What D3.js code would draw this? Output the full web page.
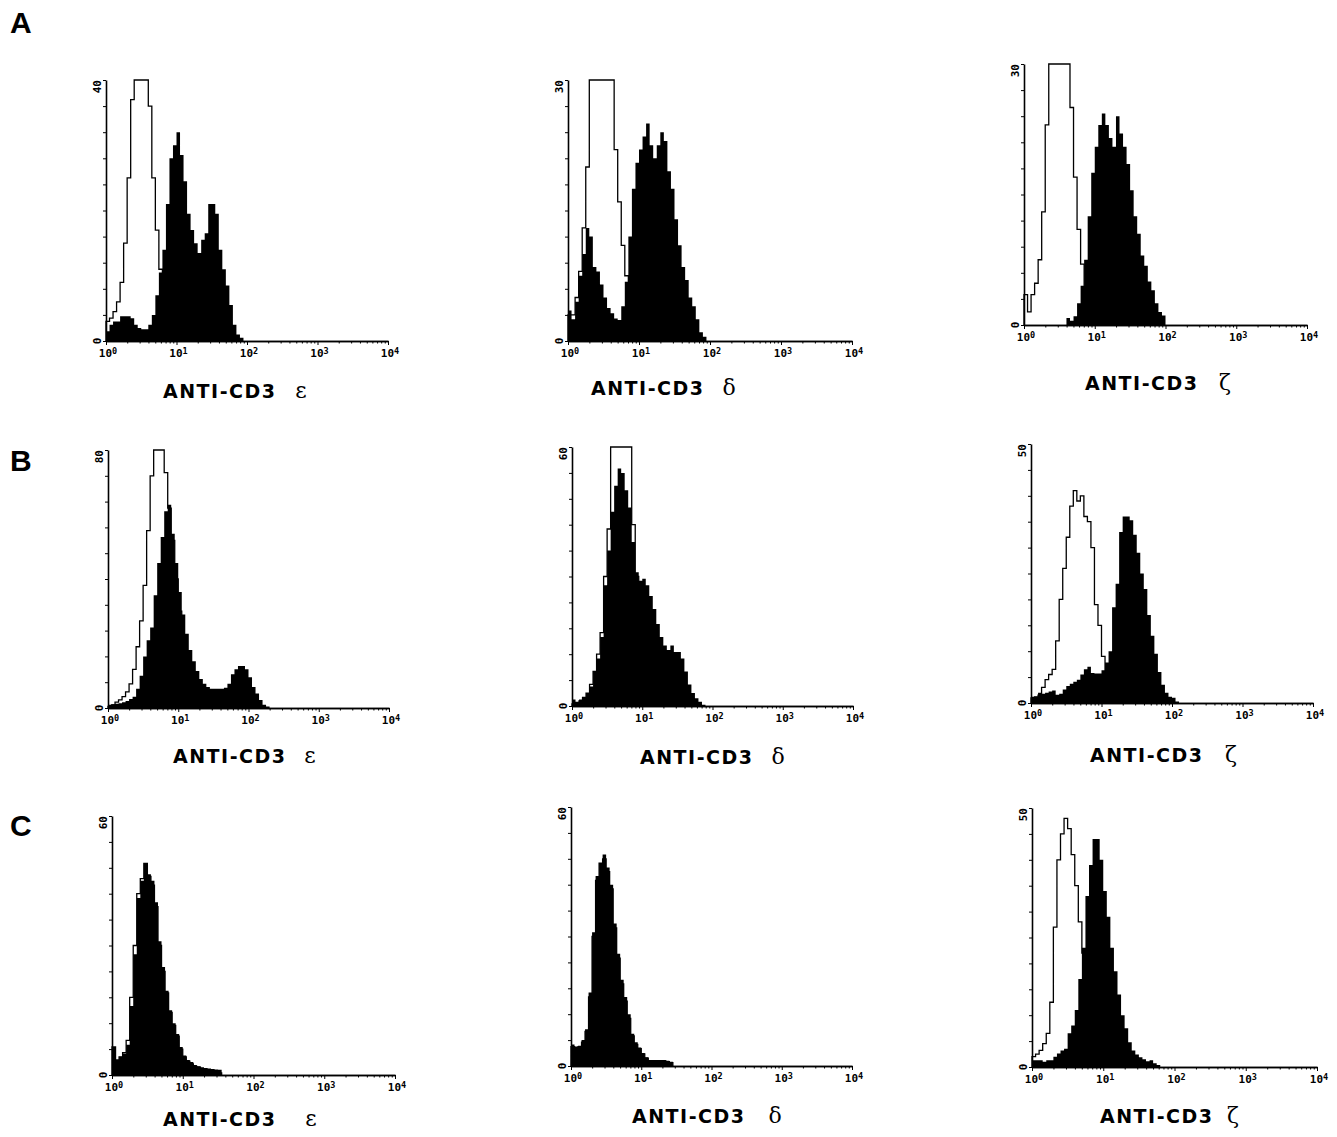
<!DOCTYPE html>
<html>
<head>
<meta charset="utf-8">
<script src="https://cdnjs.cloudflare.com/ajax/libs/d3/7.8.5/d3.min.js"></script>
<style>
	body { margin: 0; background: #fff; }
	svg { display: block; }
</style>
</head>
<body>
<script>

// channel groups are 0.05 decade wide, starting at 10^0
var binStep = 0.05;

// row A
var a1Open   = [3,3.5,4.5,6,9,15,25,37,45,45,45,45,36,25,17,11,7,4,2,1,0.5];
var a1Filled = [1.5,2.5,3,3,3.8,3.8,3.8,3.5,2.5,2,1.8,1.8,2.5,4,7,10.5,14,21,28,30,32,28.5,24.5,19.5,17,15,13.5,15.5,16.5,21,21,19.5,14,11,8.5,5.5,2.5,1,0.5];
var a2Open   = [3,3,5,8,13,20,32,32,32,32,32,32,32,22,16,11,7.5,5,3,2,1];
var a2Filled = [3.5,2.5,4.5,7.5,10,13,12,8.5,8,6.5,5,3.8,3.2,2.6,2.4,4,6.8,12,17.5,20.5,22,23.5,25,22.5,21,22.5,24,23,19.5,17.5,14,11,8.5,7,5,4,2.5,1,0.5];
var a3Open   = [3.5,1.5,3.5,4.8,7.5,13,23,32,32,32,32,32,32,25,17,11,7,4,2,1,0.5];
var a3Filled = [0,0,0,0,0,0,0,0,0,0,0,0,0.8,0.5,1,2.5,4.5,7.5,12.5,17.5,20.5,23,24.3,23,21.5,20.5,24,22,20.5,18.5,15.5,12.5,10.5,8,6.8,5,4,2.5,1.5,1.1];

// row B
var b1Open   = [0.5,1,1.8,2.5,3.5,5,7.5,12,19,27,38,55,72,85,85,85,73,62,52,40,30,22,15,10,7,5,3,2,1];
var b1Filled = [1,1.2,1.3,1.5,1.8,2.2,2.8,3.5,6,10,16,21,25,35,45,53,61,63,54,45,36,29,23,18,14.5,11.5,9,7.5,6.5,6,6,6,6,6.3,7.5,10.5,12,13,13,12,9.5,6.5,4.5,2.5,1,0.5];
var b2Open   = [0.5,0.8,1.2,2,3,5,8,12,17,30,41,65,65,65,65,65,65,42,30,22,16,11,7,5,3,2,1,0.5];
var b2Filled = [1.5,1,1.5,2,3,4.5,8,11,16,28,36,45,51,55,54,50,46,38,31,29,29.5,28,25.5,22.5,19,16,14,13,14,12.5,12.5,11,8,5,3,1.8,1,0.3];
var b3Open   = [1,1.2,1.5,3,4.5,5.5,6.5,12,20,26,32,38,41,39,40,36,35,30,19,15,9,5.5,4,3,2,1,0.5];
var b3Filled = [1.2,1.2,2,1.8,2,2.2,2.4,1.6,1.8,2.6,3.3,3.7,4.1,4.5,5.5,6.5,7,5.8,5.7,5.7,6.3,7.8,10,18.5,23,33,36,36,35.3,32.5,29,25,22,17,13,9.5,6,3.5,2,1.2,1,0.3];

// row C
var c1Open   = [6.5,3.5,4.2,5.2,8,18,30,42,45.5,49,46,44,39,30,24,19,14.5,11.5,9,6,4.2,3.2,2.6,2,1.8,1.5,1.3,1.2,1,0.8,0.5];
var c1Filled = [6.5,3.5,4.2,5,7,16,28,41,45,49,46.5,45,40,31,25,19.5,15,12,9.5,6.5,4.5,3.5,3,2.3,2,1.8,1.6,1.5,1.4,1.3,1.2];
var c2Open   = [4.5,4,4.5,5.5,8,16,30,43,47,48,45,41,32,25,19,15,11,7,5,4,2.8,1.8,1.2,1.2,1.2,1.2,1.2,1,0.8];
var c2Filled = [5,4.5,4.7,6,8.5,17,31,44,47,49,46,42,33,26,20,16,12,7.5,5.5,4.3,3,2,1.4,1.4,1.4,1.4,1.4,1.2,1];
var c3Open   = [2,2.5,3.2,4.5,6.5,12.5,27,40,45,48,46,41,35,28,22,16,11,7,4.5,3,2,1,0.5];
var c3Filled = [1.3,1.3,1.3,1,1.3,1.3,2,2.6,3.2,3.5,6.5,8,11,17,23,33,39,44,44,40,34,29,23,18.5,14,10,7.5,4.8,3.2,2.4,1.9,1.5,1.1,1.3,0.7,0.4];

var yMax = [40, 30, 30, 80, 60, 50, 60, 60, 50];
var decadeValues = [1, 10, 100, 1000, 10000];
var decadeExponents = ["0", "1", "2", "3", "4"];
var rowLetters = ["A", "B", "C"];
var markerName = "ANTI-CD3";
var chains = ["\u03b5", "\u03b4", "\u03b6", "\u03b5", "\u03b4", "\u03b6", "\u03b5", "\u03b4", "\u03b6"];

var openSeries = [a1Open, a2Open, a3Open, b1Open, b2Open, b3Open, c1Open, c2Open, c3Open];
var filledSeries = [a1Filled, a2Filled, a3Filled, b1Filled, b2Filled, b3Filled, c1Filled, c2Filled, c3Filled];

// where each little plot sits on the page
var frames = [
	{x0: 106, x1: 388, top: 80,  bottom: 341,  lx: 163,  ly: 398,  gx: 301},
	{x0: 568, x1: 852, top: 80,  bottom: 341,  lx: 591,  ly: 395,  gx: 729},
	{x0: 1024, x1: 1307, top: 64, bottom: 325, lx: 1085, ly: 390,  gx: 1225},
	{x0: 108, x1: 389, top: 450, bottom: 708,  lx: 173,  ly: 763,  gx: 310},
	{x0: 572, x1: 853, top: 447, bottom: 706,  lx: 640,  ly: 764,  gx: 778},
	{x0: 1031, x1: 1313, top: 444, bottom: 703, lx: 1090, ly: 762, gx: 1231},
	{x0: 112, x1: 395, top: 816, bottom: 1075, lx: 163,  ly: 1126, gx: 311},
	{x0: 571, x1: 852, top: 807, bottom: 1066, lx: 632,  ly: 1123, gx: 775},
	{x0: 1032, x1: 1317, top: 808, bottom: 1067, lx: 1100, ly: 1123, gx: 1233}
];
var letterY = [33, 471, 836];

var svg = d3.select("body").append("svg")
	.attr("width", 1337)
	.attr("height", 1137);

var minorTicks = [];
[0, 1, 2, 3].forEach(function(d) {
	for (var m = 2; m <= 9; m++) minorTicks.push(m * Math.pow(10, d));
});

var toPoints = function(series) {
	var pts = [[1, 0]];
	series.forEach(function(v, k) { pts.push([Math.pow(10, k * binStep), v]); });
	pts.push([Math.pow(10, series.length * binStep), 0]);
	return pts;
};

var drawPanel = function(f, i) {
	var x = d3.scaleLog().domain([1, 10000]).range([f.x0, f.x1]);
	var y = d3.scaleLinear().domain([0, yMax[i]]).range([f.bottom, f.top]).clamp(true);
	var g = svg.append("g");

	var area = d3.area()
		.x(function(d) { return x(d[0]); })
		.y0(f.bottom)
		.y1(function(d) { return y(d[1]); })
		.curve(d3.curveStepAfter);

	var line = d3.line()
		.x(function(d) { return x(d[0]); })
		.y(function(d) { return y(d[1]); })
		.curve(d3.curveStepAfter);

	g.append("path")
		.attr("d", area(toPoints(filledSeries[i])))
		.attr("fill", "#000");

	g.append("path")
		.attr("d", line(toPoints(openSeries[i])))
		.attr("fill", "none")
		.attr("stroke", "#000")
		.attr("stroke-width", 1.3);

	// y axis, ten divisions
	g.append("g")
		.attr("transform", "translate(" + f.x0 + ",0)")
		.call(d3.axisLeft(y)
			.tickValues(d3.range(11).map(function(k) { return k * yMax[i] / 10; }))
			.tickSize(3).tickSizeOuter(0).tickFormat(""));

	g.append("g")
		.attr("transform", "translate(0," + f.bottom + ")")
		.call(d3.axisBottom(x).tickValues(minorTicks).tickSize(2.5).tickSizeOuter(0).tickFormat(""));
	g.append("g")
		.attr("transform", "translate(0," + f.bottom + ")")
		.call(d3.axisBottom(x).tickValues(decadeValues).tickSize(4).tickSizeOuter(0).tickFormat(""));

	g.selectAll(".domain").attr("stroke-width", 1.6);
	g.selectAll(".tick line").attr("stroke-width", 1);

	var dec = g.selectAll(".dec")
		.data(decadeValues)
		.enter().append("text")
		.attr("x", function(d) { return x(d) + 2; })
		.attr("y", f.bottom + 16)
		.attr("text-anchor", "middle")
		.attr("font-family", "DejaVu Sans Mono")
		.attr("font-weight", "bold")
		.attr("font-size", 11)
		.text("10");
	dec.append("tspan")
		.attr("dy", -3)
		.attr("font-size", 8.5)
		.text(function(d, k) { return decadeExponents[k]; });

	g.append("text")
		.attr("transform", "translate(" + (f.x0 - 5) + "," + f.top + ") rotate(-90)")
		.attr("text-anchor", "end")
		.attr("font-family", "DejaVu Sans Mono")
		.attr("font-weight", "bold")
		.attr("font-size", 11)
		.text(yMax[i]);

	g.append("text")
		.attr("transform", "translate(" + (f.x0 - 5) + "," + f.bottom + ") rotate(-90)")
		.attr("text-anchor", "middle")
		.attr("font-family", "DejaVu Sans Mono")
		.attr("font-weight", "bold")
		.attr("font-size", 11)
		.text("0");

	g.append("text")
		.attr("x", f.lx)
		.attr("y", f.ly)
		.attr("font-family", "DejaVu Sans")
		.attr("font-weight", "bold")
		.attr("font-size", 19)
		.attr("letter-spacing", 1.5)
		.text(markerName);

	g.append("text")
		.attr("x", f.gx)
		.attr("y", f.ly)
		.attr("text-anchor", "middle")
		.attr("font-family", "DejaVu Serif")
		.attr("font-size", 22)
		.text(chains[i]);
};

frames.forEach(drawPanel);

svg.selectAll(".row")
	.data(rowLetters)
	.enter().append("text")
	.attr("x", 10)
	.attr("y", function(d, k) { return letterY[k]; })
	.attr("font-family", "Liberation Sans")
	.attr("font-weight", "bold")
	.attr("font-size", 30)
	.text(function(d) { return d; });

</script>
</body>
</html>
